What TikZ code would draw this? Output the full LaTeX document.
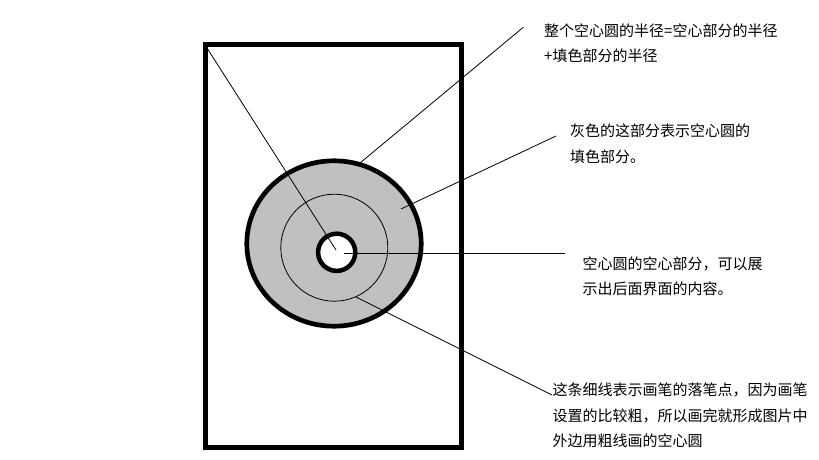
\documentclass[tikz,border=0pt]{standalone}
\usepackage{fontspec}
\newfontfamily\cjk{Noto Sans CJK SC}
\usetikzlibrary{positioning}
\definecolor{ringgray}{RGB}{192,192,192}
\tikzset{
  note/.style={anchor=west, align=left, inner sep=0pt, font=\cjk\fontsize{15}{25.5}\selectfont},
  leader/.style={line width=0.8pt},
  thick border/.style={line width=5pt}
}

\begin{document}
\begin{tikzpicture}[x=1pt, y=-1pt]
\useasboundingbox (0,0) rectangle (819,460);
\draw[thick border] (205,44.5) rectangle (461,447);
\coordinate (ring) at (334,243.5); \coordinate (pen) at (334.3,247.7); \coordinate (hole) at (336.7,252.3);
% the ring drawn with a thick pen
\fill[ringgray] (ring) ellipse [x radius=87.2, y radius=82.7];
\draw[line width=4.7pt] (ring) ellipse [x radius=87.2, y radius=82.7];
\draw[leader] (pen) circle [radius=53.5];
\draw[line width=4.5pt, fill=white] (hole) circle [radius=18.6];
% notes
\node[note] (radius) at (544,43.3) {整个空心圆的半径=空心部分的半径\\+填色部分的半径};
\node[note] (grey) at (570,143.7) {灰色的这部分表示空心圆的\\填色部分。};
\node[note] (hollow) at (582.3,276.2) {空心圆的空心部分，可以展\\示出后面界面的内容。};
\node[note] (stroke) at (552.3,415.3) {这条细线表示画笔的落笔点，因为画笔\\设置的比较粗，所以画完就形成图片中\\外边用粗线画的空心圆};
% leader lines
\coordinate (corner) at (207,48); \coordinate (mid) at (336,250);
\coordinate (r1) at (523.3,27.3); \coordinate (r2) at (360,163);
\coordinate (g1) at (556,136); \coordinate (g2) at (401,209);
\coordinate (h1) at (344,253); \coordinate (h2) at (565,253);
\coordinate (s1) at (356,297); \coordinate (s2) at (552,395);
\draw[leader] (corner) -- (mid);
\draw[leader] (r1) -- (r2);
\draw[leader] (g1) -- (g2);
\draw[leader] (h1) -- (h2);
\draw[leader] (s1) -- (s2);
\end{tikzpicture}
\end{document}
